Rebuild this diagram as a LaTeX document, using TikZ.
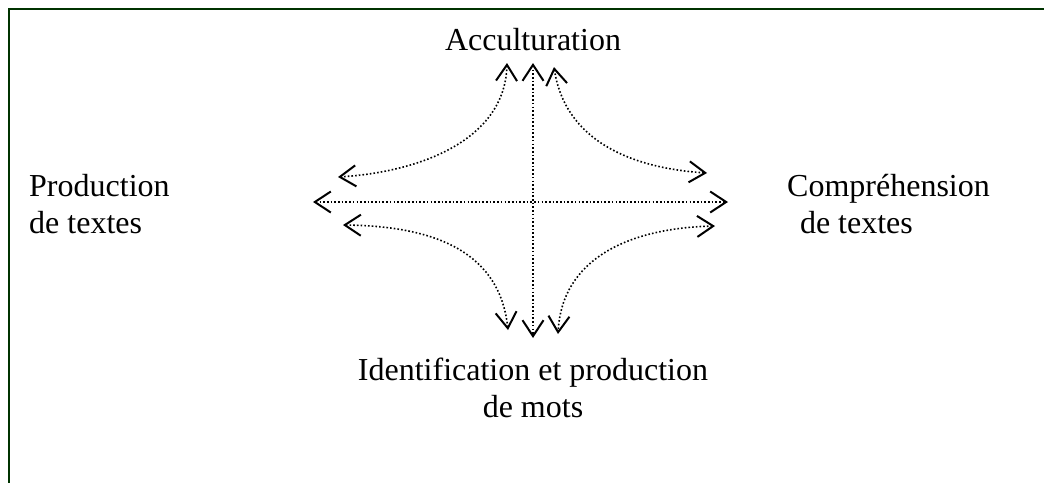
\documentclass[tikz,border=0pt]{standalone}
\usepackage{fontspec}
\setmainfont{Liberation Serif}
\definecolor{framegreen}{RGB}{0,51,0}
\usetikzlibrary{arrows.meta}

\begin{document}
\begin{tikzpicture}[
    x=1pt, y=-1pt,
    lbl/.style={font=\fontsize{32}{37}\selectfont, inner sep=0pt, anchor=base},
    arr/.style={line width=1.6pt, dash pattern=on 1.6pt off 2.1pt, {Straight Barb[length=16pt, width=21pt, line width=2pt]}-{Straight Barb[length=16pt, width=21pt, line width=2pt]}}
]
    \useasboundingbox (0,0) rectangle (1044,483);
    \draw[framegreen, line width=2.6pt] (1044,9) -- (9,9) -- (9,483);

    % labels (base = last line)
    \node[lbl] (acc) at (533,50) {Acculturation};
    \node[lbl, align=left, anchor=base west] (prod) at (29,233) {Production\\de textes};
    \node[lbl, align=left, anchor=base west] (comp) at (787,233) {Compr\'ehension\\\hspace*{0.4em}de textes};
    \node[lbl, align=center] (ident) at (533,417) {Identification et production\\de mots};

    % arrow ends
    \coordinate (acc-l) at (507,63);
    \coordinate (acc-c) at (533,63);
    \coordinate (acc-r) at (554,67);
    \coordinate (prod-u) at (338,177);
    \coordinate (prod-c) at (313,202);
    \coordinate (prod-d) at (343,225);
    \coordinate (comp-u) at (707,173);
    \coordinate (comp-c) at (728,202);
    \coordinate (comp-d) at (715,226);
    \coordinate (ident-l) at (508,330);
    \coordinate (ident-c) at (533,338);
    \coordinate (ident-r) at (558,334);

    \draw[arr] (acc-c) -- (ident-c);
    \draw[arr] (prod-c) -- (comp-c);
    \draw[arr] (acc-l) .. controls (505,140) and (420,172) .. (prod-u);
    \draw[arr] (acc-r) .. controls (565,140) and (630,168) .. (comp-u);
    \draw[arr] (prod-d) .. controls (440,226) and (500,255) .. (ident-l);
    \draw[arr] (comp-d) .. controls (630,228) and (562,258) .. (ident-r);
\end{tikzpicture}
\end{document}
